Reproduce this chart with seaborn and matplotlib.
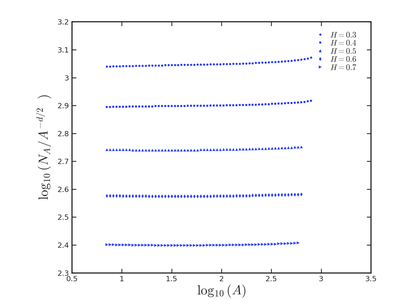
import io
import numpy as np
import pandas as pd
import matplotlib
matplotlib.use("Agg")
import matplotlib.pyplot as plt
from matplotlib.lines import Line2D
import seaborn as sns
from PIL import Image

# sampling grid in log10(A)
log_a = np.round(0.85 + 0.0325 * np.arange(64), 4)

h_labels = ["0.3", "0.4", "0.5", "0.6", "0.7"]
markers = [".", "s", "^", "d", ">"]
msizes = [10, 2.2, 4, 4, 4.5]

y_h03 = [3.040, 3.040, 3.041, 3.041, 3.041, 3.042, 3.042, 3.042, 3.042, 3.043,
         3.043, 3.043, 3.043, 3.044, 3.044, 3.044, 3.044, 3.044, 3.045, 3.045,
         3.045, 3.045, 3.045, 3.046, 3.046, 3.046, 3.046, 3.046, 3.047, 3.047,
         3.047, 3.047, 3.048, 3.048, 3.048, 3.048, 3.049, 3.049, 3.049, 3.050,
         3.050, 3.050, 3.051, 3.051, 3.052, 3.052, 3.053, 3.053, 3.054, 3.054,
         3.055, 3.056, 3.056, 3.057, 3.058, 3.059, 3.060, 3.061, 3.062, 3.063,
         3.065, 3.067, 3.069, 3.072]
y_h04 = [2.895, 2.895, 2.896, 2.896, 2.896, 2.896, 2.896, 2.897, 2.897, 2.897,
         2.897, 2.897, 2.897, 2.897, 2.897, 2.898, 2.898, 2.898, 2.898, 2.898,
         2.898, 2.898, 2.898, 2.898, 2.898, 2.899, 2.899, 2.899, 2.899, 2.899,
         2.899, 2.899, 2.900, 2.900, 2.900, 2.900, 2.900, 2.901, 2.901, 2.901,
         2.901, 2.902, 2.902, 2.902, 2.903, 2.903, 2.903, 2.904, 2.904, 2.905,
         2.905, 2.906, 2.906, 2.907, 2.907, 2.908, 2.909, 2.909, 2.910, 2.911,
         2.912, 2.913, 2.915, 2.917]
y_h05 = [2.742, 2.742, 2.742, 2.742, 2.742, 2.742, 2.742, 2.742, 2.741, 2.741,
         2.741, 2.741, 2.741, 2.741, 2.741, 2.741, 2.741, 2.741, 2.741, 2.741,
         2.741, 2.741, 2.741, 2.741, 2.741, 2.741, 2.741, 2.741, 2.741, 2.742,
         2.742, 2.742, 2.742, 2.742, 2.742, 2.742, 2.743, 2.743, 2.743, 2.743,
         2.743, 2.744, 2.744, 2.744, 2.745, 2.745, 2.745, 2.746, 2.746, 2.746,
         2.747, 2.747, 2.748, 2.748, 2.749, 2.749, 2.750, 2.750, 2.751, 2.751,
         2.752]
y_h06 = [2.577, 2.577, 2.577, 2.577, 2.577, 2.576, 2.576, 2.576, 2.576, 2.576,
         2.576, 2.576, 2.576, 2.575, 2.575, 2.575, 2.575, 2.575, 2.575, 2.575,
         2.575, 2.575, 2.575, 2.575, 2.575, 2.575, 2.575, 2.575, 2.575, 2.575,
         2.575, 2.575, 2.575, 2.576, 2.576, 2.576, 2.576, 2.576, 2.576, 2.576,
         2.577, 2.577, 2.577, 2.577, 2.577, 2.578, 2.578, 2.578, 2.578, 2.579,
         2.579, 2.579, 2.579, 2.580, 2.580, 2.580, 2.580, 2.581, 2.581, 2.581,
         2.582]
y_h07 = [2.402, 2.402, 2.402, 2.401, 2.401, 2.401, 2.401, 2.401, 2.400, 2.400,
         2.400, 2.400, 2.400, 2.400, 2.400, 2.399, 2.399, 2.399, 2.399, 2.399,
         2.399, 2.399, 2.399, 2.399, 2.399, 2.399, 2.399, 2.399, 2.399, 2.399,
         2.399, 2.400, 2.400, 2.400, 2.400, 2.400, 2.400, 2.400, 2.401, 2.401,
         2.401, 2.401, 2.401, 2.402, 2.402, 2.402, 2.402, 2.403, 2.403, 2.403,
         2.404, 2.404, 2.404, 2.405, 2.405, 2.405, 2.406, 2.406, 2.407, 2.408]

series = [y_h03, y_h04, y_h05, y_h06, y_h07]

frames = []
for lab, ys in zip(h_labels, series):
    frames.append(pd.DataFrame({"x": log_a[:len(ys)], "y": ys, "H": lab}))
df = pd.concat(frames, ignore_index=True)

sns.set_style("ticks")
plt.rcParams["mathtext.fontset"] = "cm"
plt.rcParams["font.family"] = ["DejaVu Sans"]

fig = plt.figure(figsize=(4.09, 3.08), dpi=100)
ax = fig.add_axes([0.176, 0.114, 0.731, 0.815])

blue = "#2a40ff"
for lab, m, ms in zip(h_labels, markers, msizes):
    sns.scatterplot(data=df[df["H"] == lab], x="x", y="y", marker=m,
                    color=blue, s=ms, linewidth=0, ax=ax, legend=False)

ax.set_xlim(0.5, 3.5)
ax.set_ylim(2.3, 3.2)
ax.set_xticks(np.arange(0.5, 3.51, 0.5))
ax.set_yticks(np.arange(2.3, 3.21, 0.1))
ax.xaxis.set_major_formatter(matplotlib.ticker.FormatStrFormatter("%g"))
ax.yaxis.set_major_formatter(matplotlib.ticker.FuncFormatter(lambda v, p: "%g" % round(v, 1)))
ax.tick_params(direction="in", length=3, width=0.6, labelsize=5.3, top=True, right=True, pad=2)
for sp in ax.spines.values():
    sp.set_visible(True)
    sp.set_linewidth(0.8)
    sp.set_color("#222222")

ax.set_xlabel(r"$\log_{10}(A)$", fontsize=9.5, labelpad=1)
ax.set_ylabel(r"$\log_{10}(N_A/A^{-d/2}\ \ )$", fontsize=9.5, labelpad=4)

handles = [Line2D([], [], linestyle="", marker=m, color=blue, markersize=np.sqrt(ms),
                  markeredgewidth=0) for m, ms in zip(markers, msizes)]
ax.legend(handles, [r"$H = %s$" % h for h in h_labels], loc="upper right",
          bbox_to_anchor=(0.97, 0.985), frameon=False, fontsize=5.8, handlelength=1.2,
          handletextpad=0.6, labelspacing=0.05, borderpad=0.2)

# render large and shrink, so markers are not snapped to whole pixels
buf = io.BytesIO()
fig.savefig(buf, dpi=400, format="png")
buf.seek(0)
img = Image.open(buf).convert("RGB")
img.resize((409, 308), Image.LANCZOS).save("out.png")
